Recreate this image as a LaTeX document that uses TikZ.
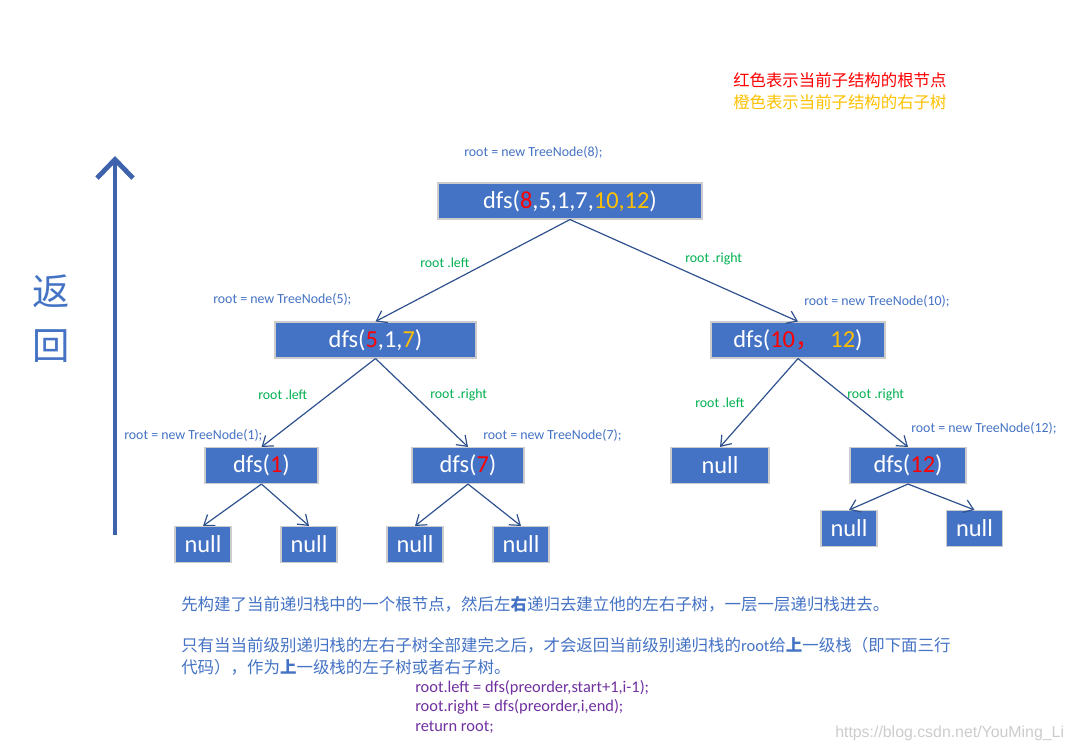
\documentclass[tikz,border=0pt]{standalone}
\usepackage{fontspec}
\setmainfont{Carlito}
\newfontfamily\cjk{Noto Sans CJK SC}
\newfontfamily\webfont{Liberation Sans}
\usepackage{tikz}
\usetikzlibrary{arrows.meta,positioning}
\definecolor{boxblue}{RGB}{68,114,196}
\definecolor{linkblue}{RGB}{47,82,143}
\definecolor{backblue}{RGB}{63,98,172}
\definecolor{rootred}{RGB}{255,0,0}
\definecolor{rightorange}{RGB}{255,192,0}
\definecolor{callgreen}{RGB}{0,176,80}
\definecolor{codepurple}{RGB}{112,48,160}

\begin{document}
\begin{tikzpicture}[x=0.75pt,y=-0.75pt,
    treebox/.style={draw=gray!40,line width=0.8pt,fill=boxblue,text=white,
      minimum height=27pt,inner sep=0pt,font=\fontsize{18.3}{20}\selectfont},
    link/.style={linkblue,line width=0.9pt,-{Straight Barb[length=7pt,width=10pt]}},
    newlbl/.style={text=boxblue,font=\fontsize{10.4}{12}\selectfont,inner sep=0pt,anchor=west},
    sidelbl/.style={text=callgreen,font=\fontsize{10.4}{12}\selectfont,inner sep=0pt,anchor=west},
    cjktext/.style={text=boxblue,font=\cjk\fontsize{12.35}{15}\selectfont,inner sep=0pt,anchor=west},
    codeline/.style={text=codepurple,font=\fontsize{12.3}{14}\selectfont,inner sep=0pt,anchor=west}]
    \useasboundingbox (0,0) rectangle (1073,751);
    % Leyenda de colores
    \node[cjktext,text=rootred,font=\cjk\fontsize{12.3}{14}\selectfont] (legred) at (733,80) {红色表示当前子结构的根节点};
    \node[cjktext,text=rightorange,font=\cjk\fontsize{12.3}{14}\selectfont] (legorange) at (733,102) {橙色表示当前子结构的右子树};
    % Flecha de retorno
    \coordinate (backlow) at (115,535);
    \coordinate (backtop) at (115,156);
    \draw[backblue,line width=3.6pt,-{Straight Barb[length=14pt,width=27pt]}] (backlow) -- (backtop);
    \node[text=boxblue,font=\cjk\fontsize{28}{30}\selectfont] (backa) at (51,291) {返};
    \node[text=boxblue,font=\cjk\fontsize{28}{30}\selectfont] (backb) at (51,346) {回};
    % Nodos del arbol
    \node[treebox,minimum width=198pt] (n8) at (570,201) {dfs({\color{rootred}8},5,1,7,{\color{rightorange}10,12})};
    \node[treebox,minimum width=150.75pt] (n5) at (375.5,340) {dfs({\color{rootred}5},1,{\color{rightorange}7})};
    \node[treebox,minimum width=130.5pt] (n10) at (798,340) {dfs({\color{rootred}10{\cjk ，}}\ \ {\color{rightorange}12})};
    \node[treebox,minimum width=84.75pt] (n1) at (261.5,465.5) {dfs({\color{rootred}1})};
    \node[treebox,minimum width=84pt] (n7) at (468,465.5) {dfs({\color{rootred}7})};
    \node[treebox,minimum width=73.5pt] (nl10) at (720,465.5) {null};
    \node[treebox,minimum width=87pt] (n12) at (908,465.5) {dfs({\color{rootred}12})};
    \node[treebox,minimum width=42pt] (nl1a) at (203,544.5) {null};
    \node[treebox,minimum width=42pt] (nl1b) at (309,544.5) {null};
    \node[treebox,minimum width=42pt] (nl7a) at (415,544.5) {null};
    \node[treebox,minimum width=42pt] (nl7b) at (521,544.5) {null};
    \node[treebox,minimum width=42pt] (nl12a) at (849,528.5) {null};
    \node[treebox,minimum width=42pt] (nl12b) at (974.5,528.5) {null};
    % Aristas
    \draw[link] (n8.south) -- (n5.north);
    \draw[link] (n8.south) -- (n10.north);
    \draw[link] (n5.south) -- (n1.north);
    \draw[link] (n5.south) -- (n7.north);
    \draw[link] (n10.south) -- (nl10.north);
    \draw[link] (n10.south) -- (n12.north);
    \draw[link] (n1.south) -- (nl1a.north);
    \draw[link] (n1.south) -- (nl1b.north);
    \draw[link] (n7.south) -- (nl7a.north);
    \draw[link] (n7.south) -- (nl7b.north);
    \draw[link] (n12.south) -- (nl12a.north);
    \draw[link] (n12.south) -- (nl12b.north);
    % Etiquetas
    \node[newlbl] (new8) at (464,152) {root = new TreeNode(8);};
    \node[sidelbl] (left8) at (420,263) {root .left};
    \node[sidelbl] (right8) at (685,259) {root .right};
    \node[newlbl] (new5) at (213,299) {root = new TreeNode(5);};
    \node[newlbl] (new10) at (804,301) {root = new TreeNode(10);};
    \node[sidelbl] (left5) at (258,395) {root .left};
    \node[sidelbl] (right5) at (430,395) {root .right};
    \node[newlbl] (new1) at (124,435) {root = new TreeNode(1);};
    \node[newlbl] (new7) at (483,435) {root = new TreeNode(7);};
    \node[sidelbl] (left10) at (695,403) {root .left};
    \node[sidelbl] (right10) at (847,395) {root .right};
    \node[newlbl] (new12) at (911,428) {root = new TreeNode(12);};
    % Texto explicativo
    \node[cjktext] (notea) at (181,604) {先构建了当前递归栈中的一个根节点，然后左\textbf{右}递归去建立他的左右子树，一层一层递归栈进去。};
    \node[cjktext] (noteb) at (181,645) {只有当当前级别递归栈的左右子树全部建完之后，才会返回当前级别递归栈的{\rmfamily root}给\textbf{上}一级栈（即下面三行};
    \node[cjktext] (notec) at (181,667) {代码），作为\textbf{上}一级栈的左子树或者右子树。};
    \node[codeline] (codea) at (415,688) {root.left = dfs(preorder,start+1,i-1);};
    \node[codeline] (codeb) at (415,707) {root.right = dfs(preorder,i,end);};
    \node[codeline] (codec) at (415,727) {return root;};
    \node[text=gray!40,font=\webfont\fontsize{11.9}{13}\selectfont,inner sep=0pt,anchor=west] (mark) at (835,733) {https://blog.csdn.net/YouMing\_Li};
\end{tikzpicture}
\end{document}
